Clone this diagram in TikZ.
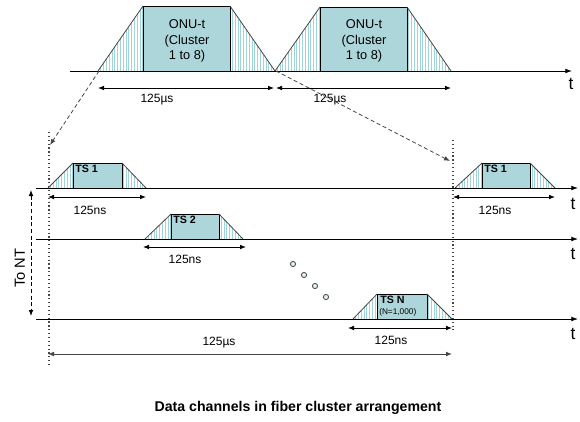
\documentclass[tikz,border=0pt]{standalone}
\usepackage{fontspec}
\setmainfont{Liberation Sans}
\usetikzlibrary{arrows.meta,patterns.meta}
\definecolor{slotcol}{RGB}{172,214,218}
\definecolor{hatchcol}{RGB}{160,212,216}
\definecolor{edgecol}{RGB}{70,70,70}
\tikzset{
  hatch/.style={pattern={Lines[angle=90,distance=2.1pt,line width=0.5pt]},pattern color=hatchcol},
  slotfill/.style={fill=slotcol,draw=black,line width=0.6pt},
  slotedge/.style={draw=edgecol,line width=0.6pt},
  axis/.style={line width=0.6pt,-{Latex[length=5pt,width=3.5pt]}},
  span/.style={line width=0.6pt,{Latex[length=4.5pt,width=3.5pt]}-{Latex[length=4.5pt,width=3.5pt]}},
  guide/.style={densely dashed,draw=edgecol,line width=0.6pt,-{Latex[length=4.5pt,width=3.5pt]}},
  marker/.style={dotted,draw=edgecol,line width=0.9pt},
  dimlabel/.style={font=\fontsize{9}{10}\selectfont},
  tlabel/.style={font=\fontsize{13}{14}\selectfont},
  tsname/.style={font=\fontsize{8}{9}\selectfont\bfseries,anchor=north west,inner sep=0pt}
}
\newcommand{\pulse}[6]{%
  \fill[hatch] (#1,#6) -- (#2,#5) -- (#2,#6) -- cycle;
  \fill[hatch] (#3,#6) -- (#3,#5) -- (#4,#6) -- cycle;
  \filldraw[slotfill] (#2,#6) rectangle (#3,#5);
  \draw[slotedge] (#1,#6) -- (#2,#5);
  \draw[slotedge] (#3,#5) -- (#4,#6);
}
\begin{document}
\begin{tikzpicture}[x=0.75pt,y=-0.75pt]
  \useasboundingbox (0,0) rectangle (580,421);
  % frame axis
  \coordinate (f0) at (70,71);
  \coordinate (f1) at (572,71);
  \pulse{98}{143}{230}{275}{6}{71}
  \pulse{275}{320}{407}{451}{7}{71}
  \draw[axis] (f0) -- (f1);
  \node[tlabel] (tf) at (571,84) {t};
  \node[align=center,font=\fontsize{9.6}{11.8}\selectfont] (onu1) at (187,41) {ONU-t\\(Cluster\\1 to 8)};
  \node[align=center,font=\fontsize{9.6}{11.8}\selectfont] (onu2) at (364,41) {ONU-t\\(Cluster\\1 to 8)};
  \coordinate (fa) at (98,88);
  \coordinate (fb) at (274,88);
  \coordinate (fc) at (276,88);
  \coordinate (fd) at (451,88);
  \draw[span] (fa) -- (fb);
  \draw[span] (fc) -- (fd);
  \node[dimlabel] (fl1) at (157,100) {125µs};
  \node[dimlabel] (fl2) at (330,100) {125µs};
  % frame boundaries
  \coordinate (m0) at (49,132);
  \coordinate (m1) at (49,365);
  \coordinate (n0) at (453,140);
  \coordinate (n1) at (453,330);
  \draw[marker] (m0) -- (m1);
  \draw[marker] (n0) -- (n1);
  \coordinate (g0) at (99,71);
  \coordinate (g1) at (50,145);
  \coordinate (h0) at (276,71);
  \coordinate (h1) at (450,161);
  \draw[guide] (g0) -- (g1);
  \draw[guide] (h0) -- (h1);
  % time slots
  \pulse{48}{73}{122}{146}{163}{188}
  \pulse{145}{171}{219}{243}{214}{239}
  \pulse{455}{482}{530}{555}{163}{188}
  \pulse{353}{377}{427}{452}{294}{319}
  \coordinate (r1a) at (36,188);
  \coordinate (r1b) at (578,188);
  \coordinate (r2a) at (36,239);
  \coordinate (r2b) at (578,239);
  \coordinate (r3a) at (36,319);
  \coordinate (r3b) at (578,319);
  \draw[axis] (r1a) -- (r1b);
  \draw[axis] (r2a) -- (r2b);
  \draw[axis] (r3a) -- (r3b);
  \node[tlabel] (t1) at (573,204) {t};
  \node[tlabel] (t2) at (573,254) {t};
  \node[tlabel] (t3) at (573,334) {t};
  \node[tsname] (ts1) at (75,165) {TS 1};
  \node[tsname] (ts2) at (173,216) {TS 2};
  \node[tsname] (ts1r) at (484,165) {TS 1};
  \node[tsname] (tsn) at (380,296) {TS N};
  \node[font=\fontsize{6.2}{7}\selectfont,anchor=north west,inner sep=0pt] (nval) at (379,308) {(N=1,000)};
  \coordinate (d1a) at (48,197);
  \coordinate (d1b) at (146,197);
  \coordinate (d2a) at (143,247);
  \coordinate (d2b) at (246,247);
  \coordinate (d3a) at (453,197);
  \coordinate (d3b) at (555,197);
  \coordinate (d4a) at (348,328);
  \coordinate (d4b) at (452,328);
  \draw[span] (d1a) -- (d1b);
  \draw[span] (d2a) -- (d2b);
  \draw[span] (d3a) -- (d3b);
  \draw[span] (d4a) -- (d4b);
  \node[dimlabel] (l1) at (90,210) {125ns};
  \node[dimlabel] (l2) at (185,259) {125ns};
  \node[dimlabel] (l3) at (495,210) {125ns};
  \node[dimlabel] (l4) at (391,340) {125ns};
  \coordinate (ba) at (48,354);
  \coordinate (bb) at (452,354);
  \draw[span,draw=edgecol] (ba) -- (bb);
  \node[dimlabel] (bl) at (219,343) {125µs};
  % to NT
  \coordinate (nt0) at (31,190);
  \coordinate (nt1) at (31,316);
  \draw[span,densely dashed] (nt0) -- (nt1);
  \node[font=\fontsize{11}{12}\selectfont,rotate=90] (ntl) at (20,268) {To NT};
  % more slots
  \foreach \px/\py in {293/264,304/275,315/286,326/297}
    \draw[edgecol,fill=slotcol!40,line width=0.6pt] (\px,\py) circle (2.6);
  \node[font=\fontsize{10.6}{12}\selectfont\bfseries] (cap) at (298,408) {Data channels in fiber cluster arrangement};
\end{tikzpicture}
\end{document}
